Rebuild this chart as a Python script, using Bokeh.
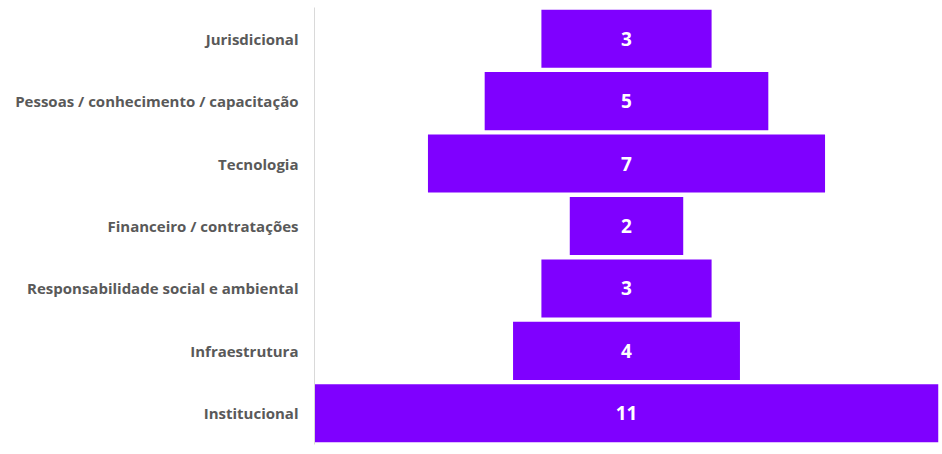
from bokeh.plotting import figure
from bokeh.models import ColumnDataSource, FactorRange, Range1d
from bokeh.embed import file_html
from bokeh.resources import INLINE
from bokeh.core.properties import value

categories = [
    "Jurisdicional",
    "Pessoas / conhecimento / capacitação",
    "Tecnologia",
    "Financeiro / contratações",
    "Responsabilidade social e ambiental",
    "Infraestrutura",
    "Institucional",
]
counts = [3, 5, 7, 2, 3, 4, 11]

source = ColumnDataSource(data=dict(
    cat=categories,
    left=[-c / 2 for c in counts],
    right=[c / 2 for c in counts],
    label=[str(c) for c in counts],
    x0=[0] * len(counts),
))

p = figure(
    width=942, height=454,
    y_range=FactorRange(factors=list(reversed(categories))),
    x_range=Range1d(-5.5, 5.5),
    output_backend="svg", toolbar_location=None,
    min_border_left=314, min_border_right=4,
    min_border_top=7, min_border_bottom=10,
)

p.hbar(y="cat", left="left", right="right", height=0.93, source=source,
       fill_color="#7f00ff", line_color=None)

p.text(x="x0", y="cat", text="label", source=source,
       text_align="center", text_baseline="middle",
       text_font=value("Open Sans"), text_font_style="bold",
       text_font_size="19px", text_color="white")

p.xaxis.visible = False
p.xgrid.visible = False
p.ygrid.visible = False
p.outline_line_color = None

ax = p.yaxis[0]
ax.axis_line_color = "#d9d9d9"
ax.axis_line_width = 1
ax.major_tick_line_color = None
ax.minor_tick_line_color = None
ax.major_tick_out = 0
ax.major_label_standoff = 16
ax.major_label_text_font = "Open Sans"
ax.major_label_text_font_style = "bold"
ax.major_label_text_font_size = "15px"
ax.major_label_text_color = "#595959"

open("out.html", "w").write(file_html(p, INLINE))
